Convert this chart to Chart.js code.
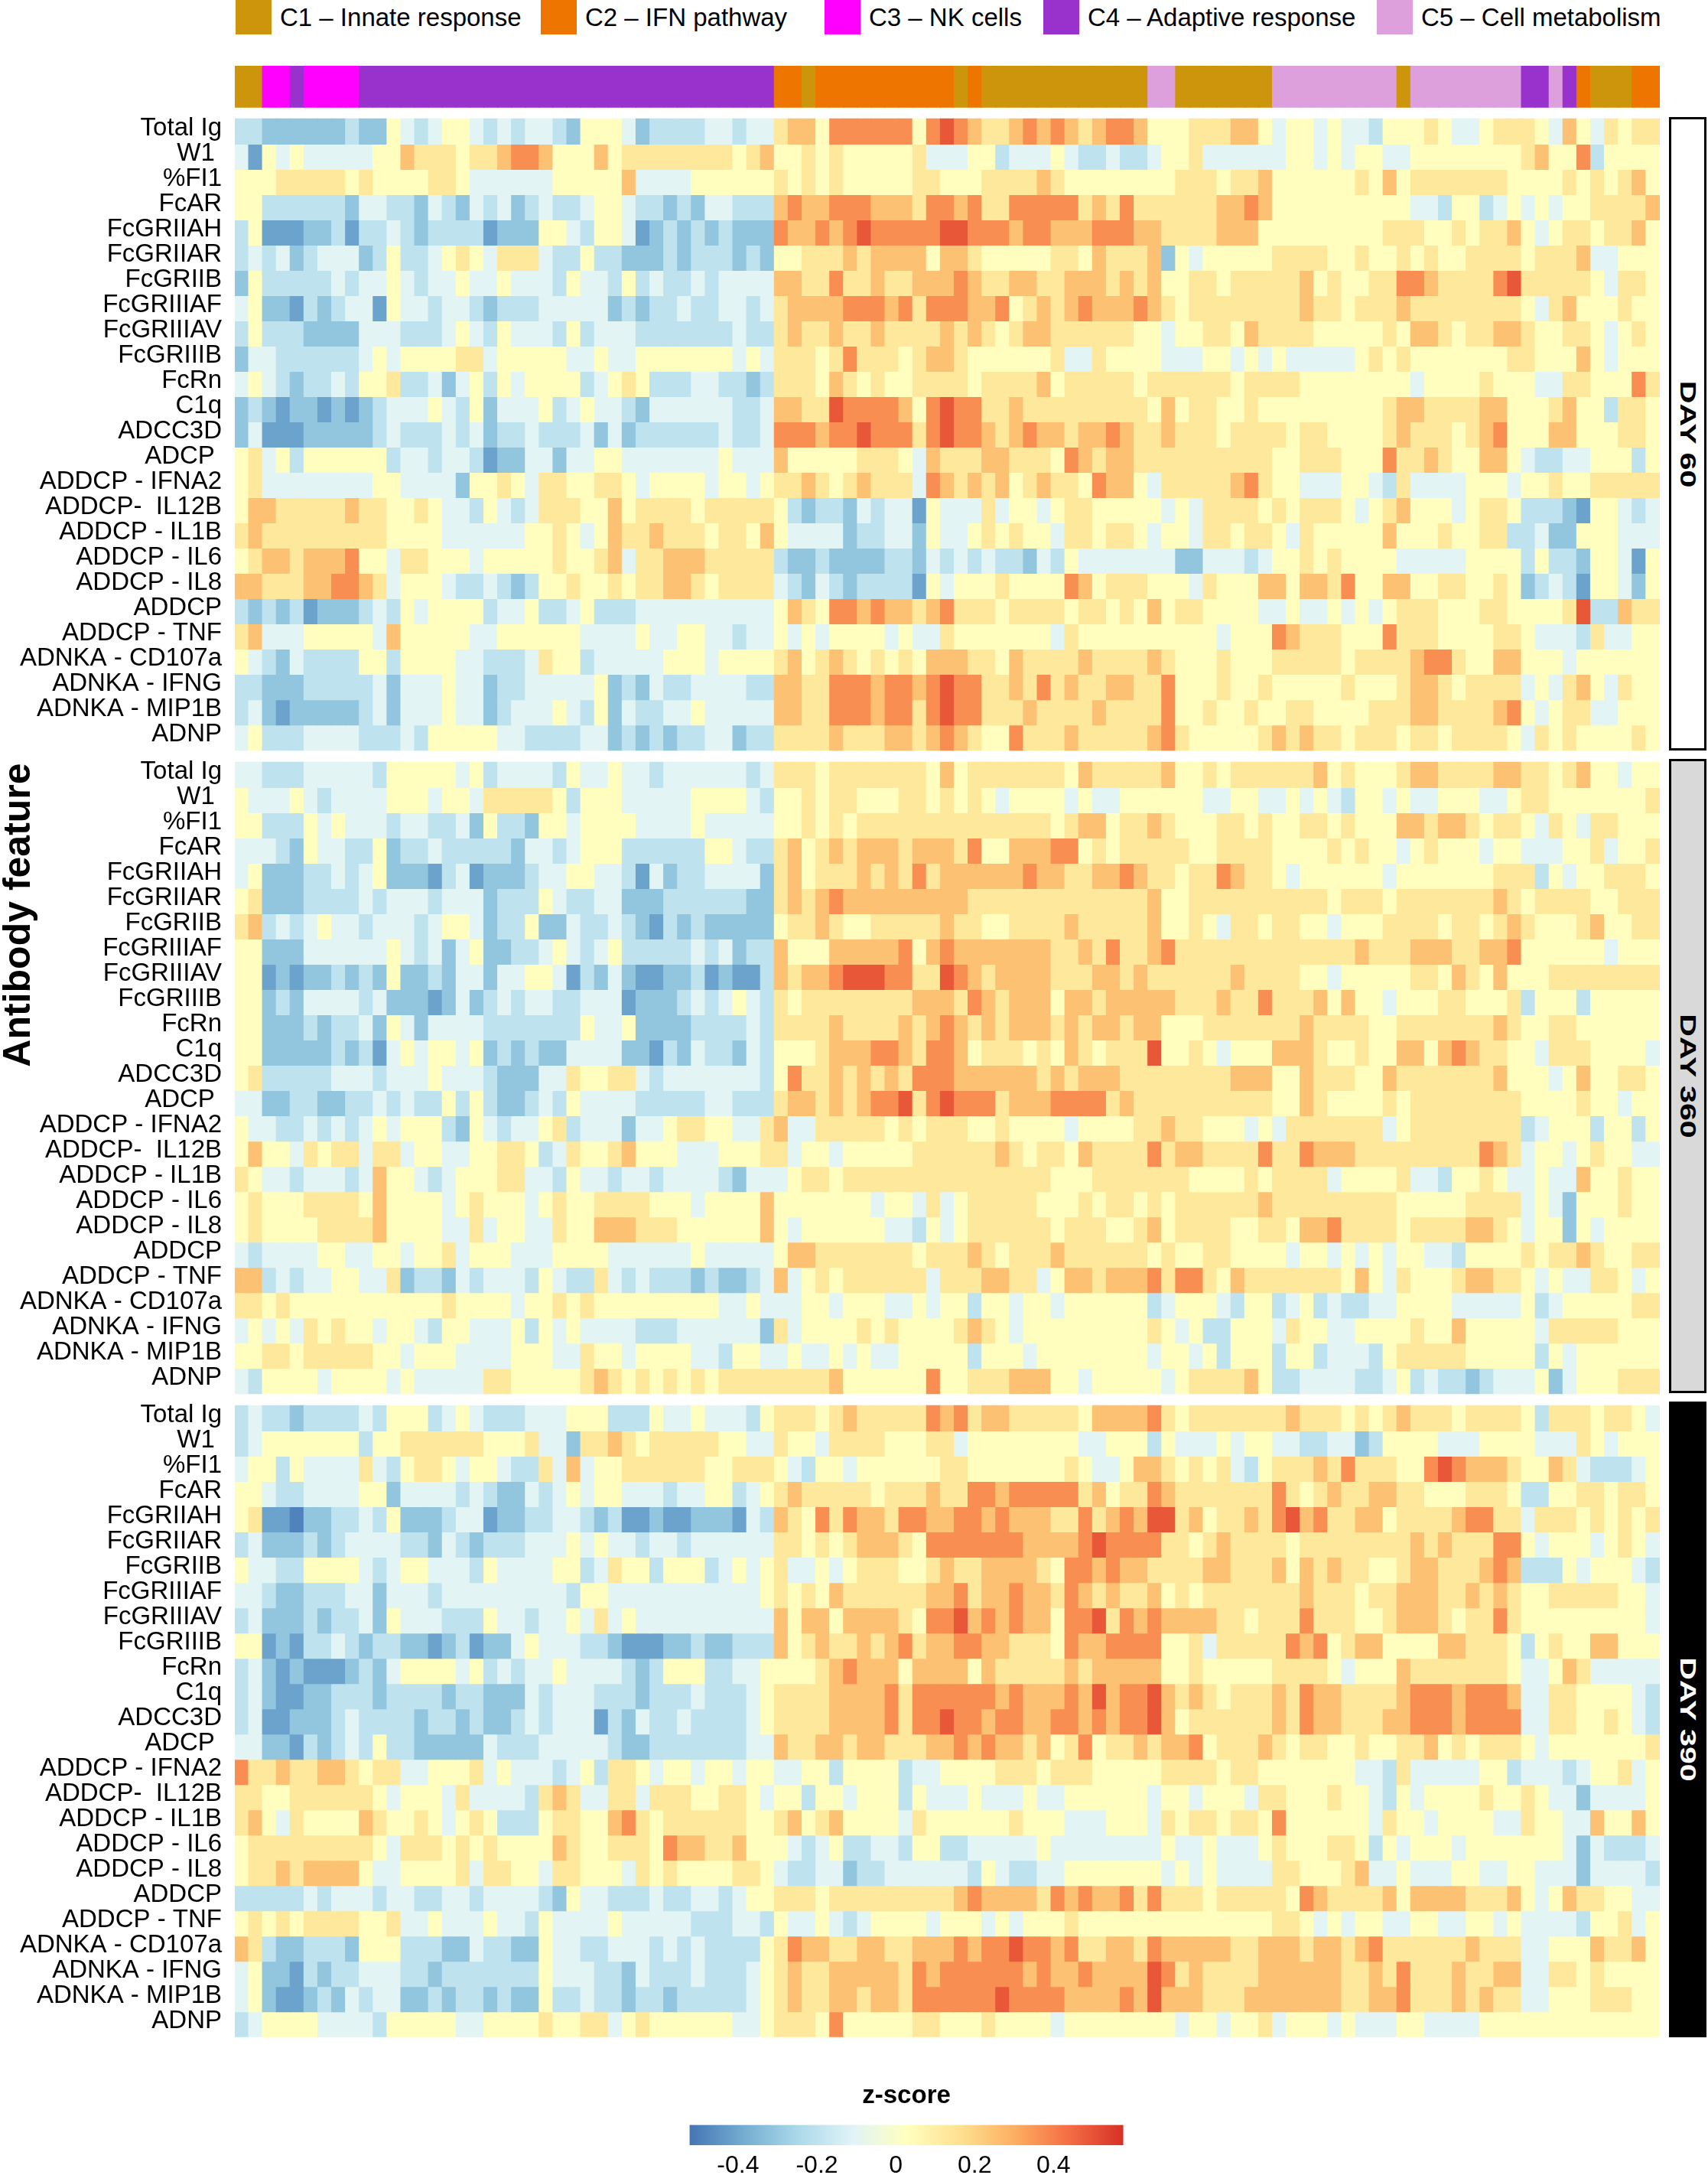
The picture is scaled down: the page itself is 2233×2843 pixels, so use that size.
<!DOCTYPE html>
<html>
<head>
<meta charset="utf-8">
<title>Antibody feature z-score heatmap</title>
<script src="https://cdn.jsdelivr.net/npm/chart.js@4.4.1/dist/chart.umd.min.js"></script>
<style>
  html, body { margin: 0; padding: 0; background: #fff; overflow: hidden; }
  body { width: 2233px; height: 2843px; position: relative; color: #000;
         font-family: "Liberation Sans", Arial, Helvetica, sans-serif; }
  #heat { position: absolute; left: 0; top: 0; }
  #scale { position: absolute; left: 861px; top: 2700px; }
  .key-box { position: absolute; top: 0; width: 47px; height: 45px; }
  .key-text { position: absolute; top: 0; height: 45px; line-height: 45px; font-size: 33px; white-space: nowrap; }
  .day { position: absolute; left: 2182px; width: 49px; box-sizing: border-box; border: 3px solid #000;
         display: flex; align-items: center; justify-content: center; overflow: visible; }
  .day span { font-weight: bold; font-size: 29px; white-space: nowrap; transform: rotate(90deg) scaleX(1.42); }
  #ytitle { position: absolute; left: 22px; top: 1196px; transform: translate(-50%, -50%) rotate(-90deg);
            font-weight: bold; font-size: 50px; white-space: nowrap; }
</style>
</head>
<body>
<div id="key"></div>
<div id="ytitle">Antibody feature</div>
<div id="days"></div>
<canvas id="heat" width="2233" height="2700"></canvas>
<canvas id="scale" width="650" height="143"></canvas>
<script>
// ---- data ----
var features = ['Total Ig', 'W1 ', '%FI1', 'FcAR', 'FcGRIIAH', 'FcGRIIAR', 'FcGRIIB', 'FcGRIIIAF',
  'FcGRIIIAV', 'FcGRIIIB', 'FcRn', 'C1q', 'ADCC3D', 'ADCP ', 'ADDCP - IFNA2', 'ADDCP-  IL12B',
  'ADDCP - IL1B', 'ADDCP - IL6', 'ADDCP - IL8', 'ADDCP', 'ADDCP - TNF', 'ADNKA - CD107a',
  'ADNKA - IFNG', 'ADNKA - MIP1B', 'ADNP'];
var days = ['DAY 60', 'DAY 360', 'DAY 390'];
var clusterNames = ['C1 \u2013 Innate response', 'C2 \u2013 IFN pathway', 'C3 \u2013 NK cells',
  'C4 \u2013 Adaptive response', 'C5 \u2013 Cell metabolism'];
// cluster of each column, left to right, as [cluster, number of columns]
var clusterRuns = [[1,2],[3,2],[4,1],[3,4],[4,30],[2,2],[1,1],[2,10],[1,1],[2,1],[1,12],
  [5,2],[1,7],[5,9],[1,1],[5,8],[4,2],[5,1],[4,1],[2,1],[1,3],[2,2]];
// z-score of a digit: 0 = deepest blue ... 9 = deepest red
var zLevels = [-0.49, -0.41, -0.31, -0.20, -0.10, 0.03, 0.13, 0.25, 0.37, 0.49];
// one string per feature, one digit per column (103 columns)
var day60 = [
  '33222222322 54345543434 43255542333 34 4344 6775 888888 5898 7667 8787 6788 7555 6667754554 5443555654 4566654754 6566',
  '41545444445 57666566788 75557566666 66 6567 5565 655555 6444 5534 4454 3343 3455 6444444554 5455445555 5555675583 5555',
  '55566666565 55566544444 45555574444 55 5555 6565 655555 6655 5666 6765 5555 5556 6656675555 5565756666 6665555656 5675',
  '55333333244 33243243423 43345543323 24 4333 7877 888777 6887 8668 8888 6768 6666 6677875555 5555554435 5345454556 6667',
  '35111223133 43233331222 55435541232 32 3222 8778 789888 8899 8887 8877 7888 7766 6677755555 5555666556 5667545665 6675',
  '34342344423 53345654666 43353322232 33 3232 5566 676777 7577 6555 5566 5766 6725 4555556666 5565565655 6666566674 4555',
  '25333334344 54344544544 43544353433 43 4444 7766 866766 7778 7667 7667 7767 6755 6656666675 6556688766 6689666665 4665',
  '45221323441 54434432333 44444232334 33 4434 6777 788878 6888 7785 6767 8777 8765 6666666676 6566676666 6666546755 5655',
  '35333222244 43334543544 43534443333 33 3433 6766 766766 6676 7656 7766 6666 5545 5665766665 5555657765 6677655665 4565',
  '24433333345 45555664555 55445445555 55 5454 6665 686665 6776 5555 5564 4655 5544 4554545444 4456565555 5556655575 4555',
  '45432334355 63342453545 55534565333 44 3323 6665 765655 6666 5666 6756 6666 5666 6665666655 5555554555 5655544665 5586',
  '23212212123 44454352444 53454432444 44 4334 7766 988887 5898 8667 6666 6666 6575 6655655555 5555677666 6775556755 3665',
  '24111222223 43334342334 33342423333 33 4334 8887 889888 6898 8767 8776 7787 6676 6656666566 5555676665 6785557755 5665',
  '56453555555 34434431224 42445544444 44 5444 7555 556665 4766 6776 6658 7677 6666 6666665566 6555866765 5775433445 5535',
  '56444444445 54444255654 66556654555 54 5545 6676 567666 4876 7675 6766 5877 5466 6667865544 4554364444 5554556556 6666',
  '57766666766 55654435434 66655756666 56 6666 5323 324344 1544 4645 5456 6555 5545 4666656566 6545675554 5665333215 5434',
  '67666666666 55554444445 56545766766 65 6657 5444 423344 2544 5656 5546 6566 5455 4665665465 5555755565 5663342255 5444',
  '56776777855 46655545555 56556746677 76 6666 3223 222233 2434 3433 2435 4444 4442 2444345565 6555544444 5555353325 5415',
  '77666778876 45554334323 55655656677 65 6666 4324 323333 1545 5565 5558 7566 6555 4655577577 6855775566 5565234315 5425',
  '32323122234 35455553445 33453334444 44 4444 5765 887877 6786 6656 6665 6656 5756 6555544544 5454566655 5665555693 3766',
  '67444555554 75555544555 55544445445 54 4344 5454 555545 4465 5555 5546 5555 5555 5545558766 6555866655 5566544436 4455',
  '54324333355 35555443334 65534444455 54 5555 6756 765656 5777 6657 6666 7666 6765 5565556666 6566667886 5577555455 5555',
  '33222333334 24445442334 44445232433 44 4433 7766 888788 7898 8667 6867 6677 6685 5565565555 5655567765 6666454675 4655',
  '34212222234 24445442344 45435243344 54 4444 7766 888788 6898 8666 7666 6766 6685 5655655665 5556667766 6678545664 4555',
  '45333444433 34355555443 33344232323 34 4233 6666 766677 6787 6558 6667 6666 6786 5555567676 6566656656 6665465655 5565'
];
var day360 = [
  '44333444443 55555453444 43544544344 44 4434 6665 666666 6575 6666 6665 7666 6675 5656666667 5655567766 6677665675 5455',
  '54445434444 55545546666 65355544444 55 5543 5565 665556 6565 6545 5554 5445 5555 5445544545 4355454455 5445665555 5556',
  '55333545444 34433425332 55455554444 54 4444 5565 656666 6666 6666 6656 7756 6765 5566565566 5655577677 6566546546 6555',
  '44432544335 23343333324 43455533333 35 5433 6756 767776 7776 8557 7788 5656 6666 5566665555 6565545655 5455444556 4556',
  '45222334345 22213412223 44554431423 34 4442 6756 667676 8677 7777 8776 6778 7665 6687665455 5555455555 5566635455 6665',
  '56222333343 44434442333 54334422233 33 3322 6767 877777 7777 6666 6666 6666 6755 6666666666 5666566666 6676566665 5666',
  '67343454434 44345542335 22433432132 32 2222 5667 655666 6676 6556 6667 6666 6755 6546656655 4555666656 6567655567 5566',
  '55222444444 54342452233 45434533333 43 4233 7555 777778 5787 7777 7766 7686 6786 6666666666 6676667776 6778555555 4555',
  '55121223232 52232442445 54132421122 31 2113 7677 899988 6698 7677 7766 6776 7666 6667666655 4555556657 6575556666 6666',
  '55232444434 22212423434 43344412223 43 4543 6566 666666 7776 8767 7757 7677 7776 6676686667 5755455566 5556355535 5555',
  '55222323342 54244443333 33354452222 33 3343 6666 766667 6787 6767 7767 6776 7755 5666666676 6665566666 6676556655 5555',
  '55222223231 45455452323 22444422132 43 3243 5556 777887 6887 5666 5657 6566 6955 6545557776 5565577578 7665546665 5554',
  '56333334443 44454443222 44655664344 44 4443 5866 767676 8887 7777 7676 7776 6666 6667775576 6655766666 6675554575 5665',
  '44223322334 34335353223 43544443333 34 4333 6776 767889 6898 8867 7788 8867 6666 6666665576 5555656666 6666555565 5455',
  '54433434345 45553254344 56344424456 65 5446 7446 666656 5666 5565 5554 5555 6676 6555454666 6666456666 6666345553 5535',
  '57554656646 64554455665 34655675554 44 5556 6455 455555 6666 6676 5665 7666 6867 7666686687 7766666666 6876455456 5544',
  '65443444347 55434555664 43544344344 44 3244 4566 566666 6666 6666 6655 5666 6666 5555656666 4555564435 5654454475 5655',
  '56555666657 55554565554 56556666555 45 5557 5555 555455 4645 6666 6555 6566 5656 6666676666 6666655555 6666454255 5655',
  '56555566667 55554464554 46557776665 55 5557 5455 555544 3545 6666 6656 6655 6756 6665566577 8666656666 7765455254 5555',
  '43444455445 54556455544 45555444444 54 4444 5776 666666 5666 7656 6676 6666 6565 5665555455 4545455443 5555656676 5566',
  '77343445544 62332434443 54336434333 23 2234 7456 566666 6466 6776 6457 7677 7868 8657666666 6575465556 7766545446 6545',
  '66565555555 55556555545 56565555555 55 4454 4455 455544 5455 3554 5545 5555 5345 5543553453 4334455554 4444534555 5566',
  '45454656554 55435544453 54544443334 44 4442 6455 556565 5556 7654 5555 5555 5654 5335554655 4455556557 5555546666 6555',
  '55665666665 54555444455 54465545555 44 3554 4544 545445 5555 3555 4555 5555 5455 4535553553 4443566666 5555535455 5555',
  '43555545555 45444446655 55567656565 65 6666 6666 755555 5855 6667 7755 4555 5545 6666753344 4433453433 2344452455 5666'
];
var day390 = [
  '34332333343 55534543334 44555333544 54 4435 6665 676666 6878 6776 6666 5777 7865 6666666766 6565676665 6666536665 6654',
  '34555555535 56666665556 44266765666 66 5544 6554 666655 5664 5555 5555 4455 5354 4454554433 4423555544 4555544465 4555',
  '45535444464 35665455433 64745566666 65 5666 5435 545555 5566 5555 5556 5445 7765 6564356667 6866655898 7776557643 3345',
  '55433444455 24444343224 34545544434 45 5345 6766 666566 6766 8878 8888 6756 6876 6666668656 7667766555 6665335566 5665',
  '56110223343 52223441223 34432311211 22 2143 7658 687768 8778 8787 7766 8678 7996 7566768978 6677566667 8866466656 5656',
  '34222323444 43324323334 44545443443 44 4444 6656 567776 5888 8888 7777 8988 8866 5676666566 6666667676 6688545554 5654',
  '54433555543 45544435444 45534655355 53 4545 6445 456665 5676 6777 7658 8787 7666 6776667576 7665567766 6787333545 5543',
  '44322333442 44434444444 44355444444 44 4445 6565 766666 6778 6778 7768 7676 6756 5666666676 6656677766 7676556666 6554',
  '34222323342 54443335443 44546454444 44 4444 7577 577776 5889 7878 7758 8968 7877 7766566686 6655677765 6686555555 5554',
  '55121334323 32212312245 44433211122 32 2333 7567 667678 6778 8776 6658 7788 8855 6466666878 5677555577 6665356557 7555',
  '34212111232 45555453434 45444432355 53 3445 5556 787775 7777 5766 6667 6777 7755 6555556666 5455576666 6665445764 4444',
  '34211223332 33332332224 34443332333 43 3345 6666 777786 8888 8878 7778 7978 8976 7656667687 7666678887 8887446655 5543',
  '34112223433 33233232234 34441324334 33 3345 6666 777786 8898 8788 7788 7878 8975 6666667687 7666778887 8888446655 6543',
  '44221323435 33222224333 44444322333 33 3344 7667 767766 6778 7877 6756 8566 7677 8566676566 5565566756 5666545555 5556',
  '86676677656 64455564544 43453665455 45 5455 4455 355553 4455 5566 6566 6555 5566 6656655555 5544364444 4553444345 5645',
  '66556666665 45554644443 67644664666 55 6654 5535 545553 5444 5444 5445 5555 5455 4555466555 6554354555 5655654424 4445',
  '67546555576 55654565333 56655786566 66 6655 6756 755554 6555 5556 5554 4455 5465 6656658555 5554655455 5544655447 5575',
  '56666666665 46665656555 57655666587 76 6755 5434 533443 5533 4444 4544 4444 4454 4544456555 6653545554 5555555424 3334',
  '56676777754 45555646655 46655546565 55 5665 4334 423344 4444 3543 3445 5555 5545 4544446655 5674454445 5445544424 4443',
  '33333434443 44334434444 32544333433 44 3455 6665 666666 6667 8777 7687 8778 6866 6566666587 6666757777 6667545766 5544',
  '56565666655 64454445443 54444544444 33 3443 5445 434555 5455 5454 5556 5555 5555 5555556654 5455445544 5545444435 5645',
  '76322333255 53332243322 54433444343 43 3335 6877 667766 7778 7889 8878 6677 6877 7776677767 7678666666 7666445557 6675',
  '45221323344 43323333333 54443324333 43 3345 6766 777776 8788 8888 7877 8777 7986 7666677777 7667686667 6677446656 5555',
  '45211232434 42232332322 53343323323 33 3345 6766 776776 8888 8898 8887 7778 7977 7666777777 7667786667 6766445556 6655',
  '34555544443 55555445555 65566456555 55 5445 6665 855555 6655 5655 5545 5555 5554 5545564555 4544455444 4555555555 5555'
];
var scaleRange = [-0.523, 0.577];
var scaleTicks = [-0.4, -0.2, 0, 0.2, 0.4];
var scaleTickLabels = ['-0.4', '-0.2', '0', '0.2', '0.4'];

// ---- style ----
var fontFamily = '"Liberation Sans", Arial, Helvetica, sans-serif';
var clusterColors = ['#cd950c', '#ee7600', '#ff00ff', '#9932cc', '#dda0dd'];
var ramp = ['#4575b4', '#74add1', '#abd9e9', '#e0f3f8', '#ffffbf', '#fee090', '#fdae61', '#f46d43', '#d73027'];
var keyLeft = [308, 707, 1078, 1364, 1800];
var dayBoxes = [[153, 828, '#fff', '#000'], [992, 829, '#d9d9d9', '#000'], [1832, 831, '#000', '#fff']];
var panelStep = 25.48;      // rows per panel plus the gap, in row units
var yMin = -2.10, yMax = 2 * panelStep + 25;
var annTop = -2.10, annBottom = -0.46;
var labelShift = -0.12;     // row labels sit a little above the cell centres

// legend and side labels
var key = document.getElementById('key');
clusterNames.forEach(function(name, i) {
  var box = document.createElement('div');
  box.className = 'key-box';
  box.style.left = keyLeft[i] + 'px';
  box.style.background = clusterColors[i];
  key.appendChild(box);
  var txt = document.createElement('div');
  txt.className = 'key-text';
  txt.style.left = (keyLeft[i] + 58) + 'px';
  txt.textContent = name;
  key.appendChild(txt);
});
var dayWrap = document.getElementById('days');
days.forEach(function(d, i) {
  var b = document.createElement('div');
  b.className = 'day';
  b.style.top = dayBoxes[i][0] + 'px';
  b.style.height = dayBoxes[i][1] + 'px';
  b.style.background = dayBoxes[i][2];
  b.style.color = dayBoxes[i][3];
  var s = document.createElement('span');
  s.textContent = d;
  b.appendChild(s);
  dayWrap.appendChild(b);
});

// colour ramp
function hexToRgb(h) {
  return [parseInt(h.slice(1, 3), 16), parseInt(h.slice(3, 5), 16), parseInt(h.slice(5, 7), 16)];
}
var rampRgb = ramp.map(hexToRgb);
function zColor(v) {
  var t = (v - scaleRange[0]) / (scaleRange[1] - scaleRange[0]);
  t = Math.max(0, Math.min(1, t)) * (ramp.length - 1);
  var i = Math.min(Math.floor(t), ramp.length - 2), f = t - i;
  var a = rampRgb[i], b = rampRgb[i + 1];
  return 'rgb(' + a.map(function(x, k) { return Math.round(x + (b[k] - x) * f); }).join(',') + ')';
}

// columns
var colCluster = [];
clusterRuns.forEach(function(run) {
  for (var i = 0; i < run[1]; i++) colCluster.push(run[0]);
});
var labels = colCluster.map(function(c, i) { return String(i + 1); });

var panels = [day60, day360, day390].map(function(rows) {
  return rows.map(function(s) {
    return s.replace(/[^0-9]/g, '').split('').map(function(d) { return zLevels[+d]; });
  });
});

var cellStyle = { grouped: false, barPercentage: 1, categoryPercentage: 1,
  borderWidth: 0, borderSkipped: false, inflateAmount: 0.6 };

var datasets = [];
datasets.push(Object.assign({
  data: labels.map(function() { return [annTop, annBottom]; }),
  backgroundColor: colCluster.map(function(c) { return clusterColors[c - 1]; })
}, cellStyle));
panels.forEach(function(rows, p) {
  rows.forEach(function(vals, r) {
    var y0 = p * panelStep + r;
    datasets.push(Object.assign({
      data: vals.map(function() { return [y0, y0 + 1]; }),
      backgroundColor: vals.map(zColor)
    }, cellStyle));
  });
});

var tickVals = [];
for (var p = 0; p < 3; p++) {
  for (var r = 0; r < features.length; r++) tickVals.push(p * panelStep + r + 0.5 + labelShift);
}

new Chart(document.getElementById('heat'), {
  type: 'bar',
  data: { labels: labels, datasets: datasets },
  options: {
    responsive: false,
    devicePixelRatio: 1,
    animation: false,
    events: [],
    layout: { padding: { left: 0, right: 63, top: 86, bottom: 37.3 } },
    plugins: { legend: { display: false }, tooltip: { enabled: false } },
    scales: {
      x: { type: 'category', display: false, offset: true, grid: { display: false } },
      y: {
        type: 'linear', reverse: true, min: yMin, max: yMax,
        grid: { display: false, drawTicks: false },
        border: { display: false },
        afterBuildTicks: function(ax) {
          ax.ticks = tickVals.map(function(v) { return { value: v }; });
        },
        afterFit: function(ax) { ax.width = 307; },
        ticks: {
          autoSkip: false, padding: 17, color: '#000',
          font: { family: fontFamily, size: 33 },
          callback: function(v, i) { return features[i % features.length]; }
        }
      }
    }
  }
});

// colour key
new Chart(document.getElementById('scale'), {
  type: 'bar',
  data: {
    labels: ['z-score'],
    datasets: [{
      data: [scaleRange.slice()],
      borderWidth: 0, barPercentage: 1, categoryPercentage: 1,
      backgroundColor: function(c) {
        var ch = c.chart, xs = ch.scales.x;
        if (!ch.chartArea || !xs) return ramp[4];
        var g = ch.ctx.createLinearGradient(xs.getPixelForValue(scaleRange[0]), 0,
          xs.getPixelForValue(scaleRange[1]), 0);
        ramp.forEach(function(col, i) { g.addColorStop(i / (ramp.length - 1), col); });
        return g;
      }
    }]
  },
  options: {
    indexAxis: 'y',
    responsive: false,
    devicePixelRatio: 1,
    animation: false,
    events: [],
    layout: { padding: { left: 40.5, right: 42.4, top: 0, bottom: 0 } },
    plugins: {
      legend: { display: false },
      tooltip: { enabled: false },
      title: { display: true, text: 'z-score', color: '#000',
        font: { family: fontFamily, size: 33, weight: 'bold' },
        padding: { top: 20, bottom: 18 } }
    },
    scales: {
      x: {
        type: 'linear', min: scaleRange[0], max: scaleRange[1],
        grid: { display: false, drawTicks: false },
        border: { display: false },
        afterBuildTicks: function(ax) {
          ax.ticks = scaleTicks.map(function(v) { return { value: v }; });
        },
        afterFit: function(ax) { ax.height = 39; },
        ticks: {
          autoSkip: false, maxRotation: 0, padding: 8, color: '#000',
          font: { family: fontFamily, size: 32 },
          callback: function(v, i) { return scaleTickLabels[i]; }
        }
      },
      y: { display: false }
    }
  }
});
</script>
</body>
</html>
